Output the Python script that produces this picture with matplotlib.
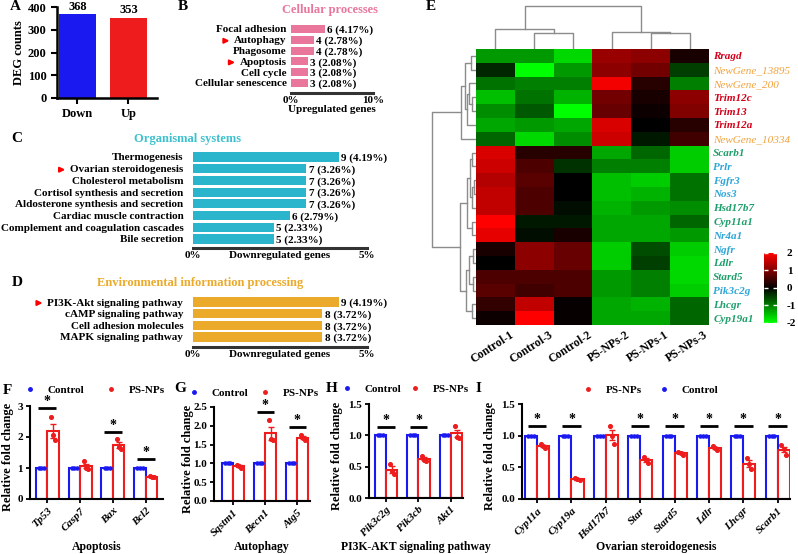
import numpy as np
import matplotlib
matplotlib.use('Agg')
import matplotlib.pyplot as plt
from matplotlib.colors import LinearSegmentedColormap
from matplotlib.lines import Line2D
from matplotlib.transforms import ScaledTranslation

plt.rcParams['font.family'] = ['Liberation Serif', 'DejaVu Serif']
plt.rcParams['font.weight'] = 'bold'
plt.rcParams['axes.labelweight'] = 'bold'
plt.rcParams['axes.unicode_minus'] = False
plt.rcParams['font.size'] = 8

W, H = 798, 554

# ---------------- data ----------------
deg_groups = ['Down', 'Up']
deg_counts = [368, 353]

cell_terms = ['Focal adhesion', 'Autophagy', 'Phagosome', 'Apoptosis', 'Cell cycle', 'Cellular senescence']
cell_counts = [6, 4, 4, 3, 3, 3]
cell_pct = [4.17, 2.78, 2.78, 2.08, 2.08, 2.08]

org_terms = ['Thermogenesis', 'Ovarian steroidogenesis', 'Cholesterol metabolism',
             'Cortisol synthesis and secretion', 'Aldosterone synthesis and secretion',
             'Cardiac muscle contraction', 'Complement and coagulation cascades', 'Bile secretion']
org_counts = [9, 7, 7, 7, 7, 6, 5, 5]
org_pct = [4.19, 3.26, 3.26, 3.26, 3.26, 2.79, 2.33, 2.33]

env_terms = ['PI3K-Akt signaling pathway', 'cAMP signaling pathway', 'Cell adhesion molecules', 'MAPK signaling pathway']
env_counts = [9, 8, 8, 8]
env_pct = [4.19, 3.72, 3.72, 3.72]

arrow_terms = ['Autophagy', 'Apoptosis', 'Ovarian steroidogenesis', 'PI3K-Akt signaling pathway']

heat_cols = ['Control-1', 'Control-3', 'Control-2', 'PS-NPs-2', 'PS-NPs-1', 'PS-NPs-3']
heat_rows = ['Rragd', 'NewGene_13895', 'NewGene_200', 'Trim12c', 'Trim13', 'Trim12a', 'NewGene_10334',
             'Scarb1', 'Prlr', 'Fgfr3', 'Nos3', 'Hsd17b7', 'Cyp11a1', 'Nr4a1', 'Ngfr', 'Ldlr',
             'Stard5', 'Pik3c2g', 'Lhcgr', 'Cyp19a1']
row_kind = ['r', 'o', 'o', 'r', 'r', 'r', 'o', 'g', 'b', 'b', 'b', 'g', 'g', 'b', 'b', 'g', 'g', 'b', 'g', 'g']
heat_z = [
    [-1.2, -1.2, -1.7, 1.2, 1.1, 0.2],
    [-0.3, -2.0, -1.2, 1.1, 0.9, -0.5],
    [-0.9, -1.0, -1.0, 1.9, 0.3, -1.0],
    [-1.5, -0.9, -1.4, 0.9, 0.2, 1.1],
    [-1.1, -0.7, -2.0, 0.8, 0.1, 1.0],
    [-1.3, -1.2, -1.3, 1.7, 0.0, 0.3],
    [-0.8, -1.7, -1.1, 1.6, -0.2, 0.5],
    [1.7, 0.3, 0.3, -1.3, -0.8, -1.6],
    [1.6, 0.6, -0.4, -1.0, -1.0, -1.6],
    [1.4, 0.7, 0.0, -1.5, -1.6, -0.9],
    [1.5, 0.6, 0.0, -1.5, -1.4, -0.9],
    [1.5, 0.6, -0.1, -1.4, -1.2, -1.1],
    [2.0, -0.2, -0.2, -1.3, -1.3, -0.8],
    [1.8, -0.1, 0.2, -1.3, -1.3, -1.2],
    [0.2, 1.1, 0.8, -1.6, -0.6, -1.6],
    [0.0, 1.1, 0.8, -1.6, -0.5, -1.7],
    [0.6, 0.6, 0.6, -1.2, -1.0, -1.7],
    [0.7, 0.5, 0.6, -1.2, -1.0, -1.6],
    [0.4, 1.5, 0.05, -1.3, -1.4, -0.8],
    [0.1, 2.0, 0.05, -1.3, -1.3, -0.8],
]
# (left, right, height) linkage trees
col_tree = ((0, (1, 2, 0.37), 0.47), (3, (4, 5, 0.37), 0.40), 1.0)
row_tree = (((((0, 1, 0.12), ((2, (3, 4, 0.08), 0.15), 5, 0.2), 0.26), 6, 0.33)),
            ((((7, 8, 0.1), ((9, 10, 0.05), 11, 0.08), 0.14), (12, 13, 0.1), 0.2),
             (((14, 15, 0.06), (16, 17, 0.07), 0.15), (18, 19, 0.09), 0.22), 0.36), 1.0)

control_rep = [1.0, 1.0, 1.0]

apo_genes = ['Tp53', 'Casp7', 'Bax', 'Bcl2']
apo_ps = [[2.65, 2.05, 1.9], [1.22, 1.0, 0.98], [1.93, 1.68, 1.62], [0.75, 0.72, 0.70]]
apo_sig = [2.94, None, 2.16, 1.29]

auto_genes = ['Sqstm1', 'Becn1', 'Atg5']
auto_ps = [[0.97, 0.93, 0.88], [2.15, 1.65, 1.62], [1.76, 1.68, 1.62]]
auto_sig = [None, 2.36, 1.96]

pi3k_genes = ['Pik3c2g', 'Pik3cb', 'Akt1']
pi3k_ps = [[0.55, 0.43, 0.38], [0.67, 0.61, 0.59], [1.15, 0.98, 0.96]]
pi3k_sig = [1.13, 1.13, None]

ster_genes = ['Cyp11a', 'Cyp19a', 'Hsd17b7', 'Star', 'Stard5', 'Ldlr', 'Lhcgr', 'Scarb1']
ster_ps = [[0.87, 0.83, 0.81], [0.33, 0.31, 0.30], [1.15, 1.0, 0.87], [0.66, 0.62, 0.57],
           [0.75, 0.72, 0.69], [0.83, 0.80, 0.78], [0.65, 0.55, 0.47], [0.85, 0.79, 0.70]]
ster_sig = [1.16, 1.16, None, 1.16, 1.16, 1.16, 1.16, 1.16]

BLUE = '#1A1AF0'
RED = '#EE1C1C'

fig = plt.figure(figsize=(W / 100, H / 100), dpi=100)


def pax(l, t, r, b):
    return fig.add_axes([l / W, 1 - b / H, (r - l) / W, (b - t) / H])


def ftext(x, y, s, **kw):
    fig.text(x / W, 1 - y / H, s, **kw)


# panel letters
for lt, (x, y) in zip('ABCDEFGHI', [(15, 7), (183, 7), (17, 138), (17, 283), (431, 7),
                                     (7, 390), (180, 388), (332, 388), (478, 389)]):
    ftext(x, y, lt, fontsize=11, ha='center', va='center')

# ---------------- A ----------------
axA = pax(57, 7, 157, 98)
axA.bar(range(2), deg_counts, width=0.72, color=[BLUE, RED])
for i, v in enumerate(deg_counts):
    axA.annotate(str(v), (i, v), xytext=(0, 1), textcoords='offset points', ha='center', va='bottom', fontsize=9)
axA.set_xlim(-0.4, 1.56)
axA.set_ylim(0, 400)
axA.set_yticks([0, 100, 200, 300, 400])
axA.set_xticks(range(2), deg_groups)
axA.tick_params(labelsize=9, width=1.5, length=4)
axA.set_ylabel('DEG counts', fontsize=9, labelpad=2)
for s in ['top', 'right']:
    axA.spines[s].set_visible(False)
for s in ['left', 'bottom']:
    axA.spines[s].set_linewidth(1.8)


# ---------------- B, C, D ----------------
def enrich(l, r, y0, y1, yb, terms, counts, pct, color, xmax, bh, xlabel, pad, lpad):
    n = len(terms)
    sp = (y1 - y0) / (n - 1)
    ax = pax(l, y0 - 0.6 * sp, r, yb)
    y = np.arange(n)
    ax.barh(y, pct, height=bh, color=color)
    for i in range(n):
        ax.annotate(f'{counts[i]} ({pct[i]:.2f}%)', (pct[i], i), xytext=(1.5, -1),
                    textcoords='offset points', va='center', ha='left', fontsize=8)
    ax.set_ylim(n - 1 + (yb - y1) / sp, -0.6)
    ax.set_xlim(0, xmax)
    ax.set_yticks(y, terms)
    ax.set_xticks([0, xmax], ['0%', f'{xmax}%'])
    ax.tick_params(axis='y', length=0, pad=pad, labelsize=8)
    ax.tick_params(axis='x', length=0, pad=2, labelsize=8)
    for s in ['top', 'right', 'left']:
        ax.spines[s].set_visible(False)
    ax.spines['bottom'].set_linewidth(2.2)
    ax.spines['bottom'].set_color('#333333')
    ax.set_xlabel(xlabel, labelpad=lpad, fontsize=8)
    return ax


axB = enrich(291, 373, 29, 83, 93, cell_terms, cell_counts, cell_pct, '#E8779B', 10, 0.74,
             'Upregulated genes', 3, 0)
axC = enrich(193, 367, 157, 239, 248, org_terms, org_counts, org_pct, '#2BB5CC', 5, 0.78,
             'Downregulated genes', 7, -6)
axD = enrich(193, 367, 302, 337, 347, env_terms, env_counts, env_pct, '#EBAA2A', 5, 0.8,
             'Downregulated genes', 7, -6)
ftext(330, 10, 'Cellular processes', color='#E8779B', fontsize=9, ha='center', va='center')
ftext(188, 139, 'Organismal systems', color='#3EC1CF', fontsize=9, ha='center', va='center')
ftext(200, 283, 'Environmental information processing', color='#EBAA2A', fontsize=9, ha='center', va='center')

# ---------------- E heatmap ----------------
cmap = LinearSegmentedColormap.from_list('gkr', ['#00FF00', '#000000', '#FF0000'])
axE = pax(476, 49, 709, 325)
im = axE.imshow(np.array(heat_z), cmap=cmap, vmin=-2, vmax=2, aspect='auto', interpolation='nearest')
axE.set_xticks(range(len(heat_cols)), heat_cols, rotation=33, ha='right', rotation_mode='anchor', fontsize=8.5)
axE.yaxis.tick_right()
axE.set_yticks(range(len(heat_rows)), heat_rows, fontsize=8)
axE.tick_params(length=0, pad=3)
kind_color = {'r': '#D4001A', 'o': '#F2A23A', 'g': '#1E9E6B', 'b': '#2CA6D8'}
for lab, k in zip(axE.get_yticklabels(), row_kind):
    lab.set_color(kind_color[k])
    lab.set_style('italic')
    if k == 'o':
        lab.set_fontweight('normal')
for lab in axE.get_xticklabels():
    lab.set_transform(lab.get_transform() + ScaledTranslation(0.14, 0, fig.dpi_scale_trans))
for s in axE.spines.values():
    s.set_visible(False)


def dendro(ax, node, top):
    if isinstance(node, int):
        return node, 0.0
    a, b, h = node
    xa, ha = dendro(ax, a, top)
    xb, hb = dendro(ax, b, top)
    xs, ys = [xa, xa, xb, xb], [ha, h, h, hb]
    if top:
        ax.plot(xs, ys, color='#8C8C8C', lw=1)
    else:
        ax.plot(ys, xs, color='#8C8C8C', lw=1)
    return (xa + xb) / 2, h


axCD = pax(476, 4, 709, 49)
dendro(axCD, col_tree, True)
axCD.set_xlim(-0.5, 5.5)
axCD.set_ylim(0, 1.047)
axCD.axis('off')

axRD = pax(430, 49, 476, 325)
dendro(axRD, row_tree, False)
axRD.set_xlim(1.045, 0)
axRD.set_ylim(19.5, -0.5)
axRD.axis('off')

cax = pax(764, 253, 777, 323)
cb = fig.colorbar(im, cax=cax, ticks=[-2, -1, 0, 1, 2])
cb.outline.set_visible(False)
cax.tick_params(direction='in', color='white', length=3, width=1, left=True, right=True, pad=7, labelsize=8)


# ---------------- F-I ----------------
def fold_panel(l, t, r, b, genes, ps, sig, ymax, yticks, fmt, xlim, xlabel, ylab_x, order, leg, cs):
    ax = pax(l, t, r, b)
    x = np.arange(len(genes))
    w = 0.35
    ps = np.array(ps)
    mean = ps.mean(axis=1)
    sem = ps.std(axis=1, ddof=1) / np.sqrt(ps.shape[1])
    ax.bar(x - w / 2, [np.mean(control_rep)] * len(genes), w, facecolor='white', edgecolor=BLUE, lw=1.5)
    ax.bar(x + w / 2, mean, w, facecolor='white', edgecolor=RED, lw=1.5)
    ax.errorbar(x + w / 2, mean, yerr=sem, fmt='none', ecolor=RED, elinewidth=1, capsize=2, capthick=1)
    offs = np.array([-0.08, 0.0, 0.08])
    for i in range(len(genes)):
        ax.scatter(x[i] - w / 2 + offs, control_rep, s=5, color=BLUE, zorder=3)
        ax.scatter(x[i] + w / 2 + offs * 0.8, ps[i], s=7, color=RED, zorder=3)
        if sig[i] is not None:
            ax.plot([x[i] - 0.27, x[i] + 0.27], [sig[i], sig[i]], color='black', lw=2, solid_capstyle='butt')
            ax.text(x[i], sig[i], '*', ha='center', va='bottom', fontsize=10)
    ax.set_xlim(*xlim)
    ax.set_ylim(0, ymax)
    ax.set_yticks(yticks, [fmt % v for v in yticks])
    ax.set_xticks(x, genes, rotation=45, ha='right', rotation_mode='anchor', style='italic')
    ax.tick_params(width=1.3, length=3, labelsize=8, pad=2)
    for s in ['top', 'right']:
        ax.spines[s].set_visible(False)
    for s in ['left', 'bottom']:
        ax.spines[s].set_linewidth(1.5)
    ax.set_xlabel(xlabel, fontsize=8.5)
    ax.xaxis.set_label_coords(0.5, -(547 - b) / (b - t), transform=ax.transAxes)
    ax.xaxis.label.set_va('center')
    ax.set_ylabel('Relative fold change', fontsize=9)
    ax.yaxis.set_label_coords((ylab_x - l) / (r - l), 0.45)
    ax.yaxis.label.set_va('center')
    handles = {'Control': Line2D([], [], ls='', marker='o', ms=2.5, color=BLUE),
               'PS-NPs': Line2D([], [], ls='', marker='o', ms=2.5, color=RED)}
    ax.legend([handles[k] for k in order], order, ncol=2, frameon=False, loc='center left',
              bbox_to_anchor=((leg[0] - 5.5) / W, 1 - leg[1] / H), bbox_transform=fig.transFigure,
              borderpad=0, borderaxespad=0, handlelength=1.0, handletextpad=1.1, columnspacing=cs,
              fontsize=8)
    return ax


fold_panel(30, 406, 163, 499, apo_genes, apo_ps, apo_sig, 3, [0, 1, 2, 3], '%d', (-0.52, 3.52),
           'Apoptosis', 8, ['Control', 'PS-NPs'], (30, 390), 1.9)
fold_panel(214, 407, 310, 501, auto_genes, auto_ps, auto_sig, 2.5, [0, 0.5, 1, 1.5, 2, 2.5], '%.1f',
           (-0.6, 2.4), 'Autophagy', 188, ['Control', 'PS-NPs'], (194, 393), 0.95)
fold_panel(369, 404, 463, 498, pi3k_genes, pi3k_ps, pi3k_sig, 1.5, [0, 0.5, 1, 1.5], '%.1f',
           (-0.52, 2.37), 'PI3K-AKT signaling pathway', 337, ['Control', 'PS-NPs'], (347, 389), 0.75)
fold_panel(522, 404, 790, 499, ster_genes, ster_ps, ster_sig, 1.5, [0, 0.5, 1, 1.5], '%.1f',
           (-0.44, 7.36), 'Ovarian steroidogenesis', 490, ['PS-NPs', 'Control'], (588, 390), 1.5)

# red arrows in front of highlighted pathways
fig.canvas.draw()
for ax in [axB, axC, axD]:
    for lab in ax.get_yticklabels():
        if lab.get_text() in arrow_terms:
            bb = lab.get_window_extent()
            ym = (bb.y0 + bb.y1) / 2
            fig.add_artist(matplotlib.patches.FancyArrowPatch(
                ((bb.x0 - 13) / W, ym / H), ((bb.x0 - 2) / W, ym / H), transform=fig.transFigure,
                arrowstyle='-|>', mutation_scale=7, color='red', lw=1.5))

fig.savefig('out.png', dpi=100)
